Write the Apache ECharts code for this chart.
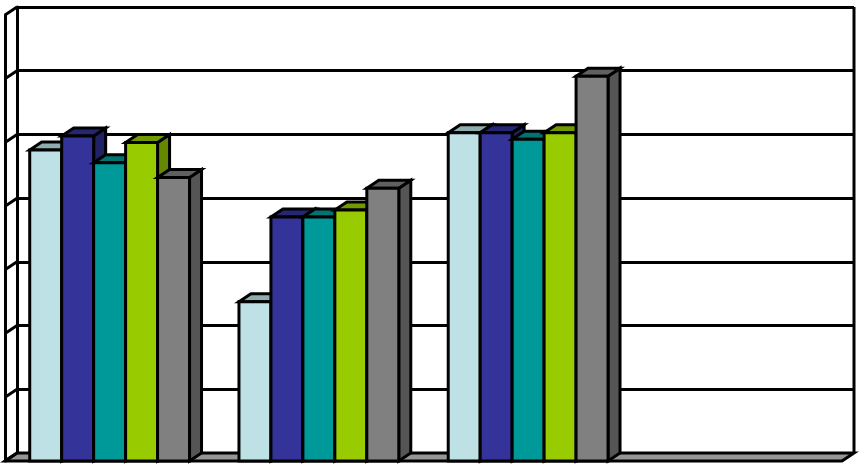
<!DOCTYPE html>
<html><head><meta charset="utf-8">
<script src="https://cdn.jsdelivr.net/npm/echarts@6/dist/echarts.min.js"></script>
<style>html,body{margin:0;padding:0;background:#fff}#c{width:863px;height:466px}</style>
</head><body><div id="c"></div>
<script>
// ---- data ----
const categories = ['1', '2', '3', '4'];
const seriesNames = ['S1', 'S2', 'S3', 'S4', 'S5'];
const s1 = [4.88, 2.50, 5.15, null];
const s2 = [5.10, 3.83, 5.15, null];
const s3 = [4.68, 3.83, 5.05, null];
const s4 = [5.00, 3.94, 5.15, null];
const s5 = [4.45, 4.28, 6.04, null];
const yTicks = [0, 1, 2, 3, 4, 5, 6, 7];

// ---- style ----
const values = [s1, s2, s3, s4, s5];
const frontColors = ['#BDE1E4', '#333399', '#009999', '#99CC00', '#808080'];
const topColors   = ['#8FACAE', '#262673', '#007373', '#739900', '#606060'];
const sideColors  = ['#7E9799', '#212165', '#006464', '#668800', '#555555'];
const DX = 12, DY = -8;
const LW = 3;
const BAR_FRAC = 32 / 209.5;

function barSeries(s) {
  return {
    type: 'custom', name: seriesNames[s], xAxisIndex: 0, yAxisIndex: 0, z: 10 + s,
    data: values[s].map((v, i) => [i, v]),
    renderItem: function (params, api) {
      const v = api.value(1);
      if (v == null || isNaN(v)) return;
      const base = api.coord([api.value(0), 0]);
      const top = api.coord([api.value(0), v]);
      const cw = api.size([1, 0])[0];
      const bw = cw * BAR_FRAC;
      const x0 = base[0] - bw * 2.5 + s * bw;
      const x1 = x0 + bw;
      const yb = base[1], yt = top[1];
      const st = { stroke: '#000', lineWidth: LW, lineJoin: 'miter' };
      return {
        type: 'group',
        children: [
          { type: 'polygon', shape: { points: [[x1, yt], [x1 + DX, yt + DY], [x1 + DX, yb + DY], [x1, yb]] },
            style: Object.assign({ fill: sideColors[s] }, st) },
          { type: 'polygon', shape: { points: [[x0, yt], [x0 + DX, yt + DY], [x1 + DX, yt + DY], [x1, yt]] },
            style: Object.assign({ fill: topColors[s] }, st) },
          { type: 'rect', shape: { x: x0, y: yt, width: bw, height: yb - yt },
            style: Object.assign({ fill: frontColors[s] }, st) }
        ]
      };
    }
  };
}

const frameSeries = {
  type: 'custom', xAxisIndex: 0, yAxisIndex: 0, z: 3, silent: true,
  data: [[0, 0]],
  renderItem: function (params, api) {
    const cs = params.coordSys;
    const left = cs.x, right = cs.x + cs.width, bottom = cs.y + cs.height;
    const children = [];
    // floor
    children.push({ type: 'polygon', shape: { points: [[left, bottom], [left + DX, bottom + DY], [right + DX, bottom + DY], [right, bottom]] },
      style: { fill: '#969696', stroke: '#000', lineWidth: LW } });
    // left wall diagonals
    yTicks.forEach(t => {
      const y = api.coord([0, t])[1];
      children.push({ type: 'line', shape: { x1: left, y1: y, x2: left + DX, y2: y + DY },
        style: { stroke: '#000', lineWidth: LW } });
    });
    // back wall right edge
    const yTop = api.coord([0, yTicks[yTicks.length - 1]])[1];
    children.push({ type: 'line', shape: { x1: right + DX, y1: yTop + DY, x2: right + DX, y2: bottom + DY },
      style: { stroke: '#000', lineWidth: LW } });
    return { type: 'group', children: children };
  }
};

const chart = echarts.init(document.getElementById('c'), null, { renderer: 'canvas' });
chart.setOption({
  animation: false,
  backgroundColor: '#fff',
  grid: [
    { left: 5, right: 21, top: 15, bottom: 5 },
    { left: 17, right: 9, top: 7, bottom: 13 }
  ],
  xAxis: [
    { type: 'category', gridIndex: 0, data: categories, show: false },
    { type: 'category', gridIndex: 1, data: categories, show: false }
  ],
  yAxis: [
    { type: 'value', gridIndex: 0, min: 0, max: 7, interval: 1,
      axisLabel: { show: false }, axisTick: { show: false }, splitLine: { show: false },
      axisLine: { show: true, lineStyle: { color: '#000', width: LW } } },
    { type: 'value', gridIndex: 1, min: 0, max: 7, interval: 1, z: 1,
      axisLabel: { show: false }, axisTick: { show: false },
      splitLine: { show: true, lineStyle: { color: '#000', width: LW } },
      axisLine: { show: true, lineStyle: { color: '#000', width: LW } } }
  ],
  series: [frameSeries].concat(values.map((v, s) => barSeries(s)))
});
</script>
</body></html>
